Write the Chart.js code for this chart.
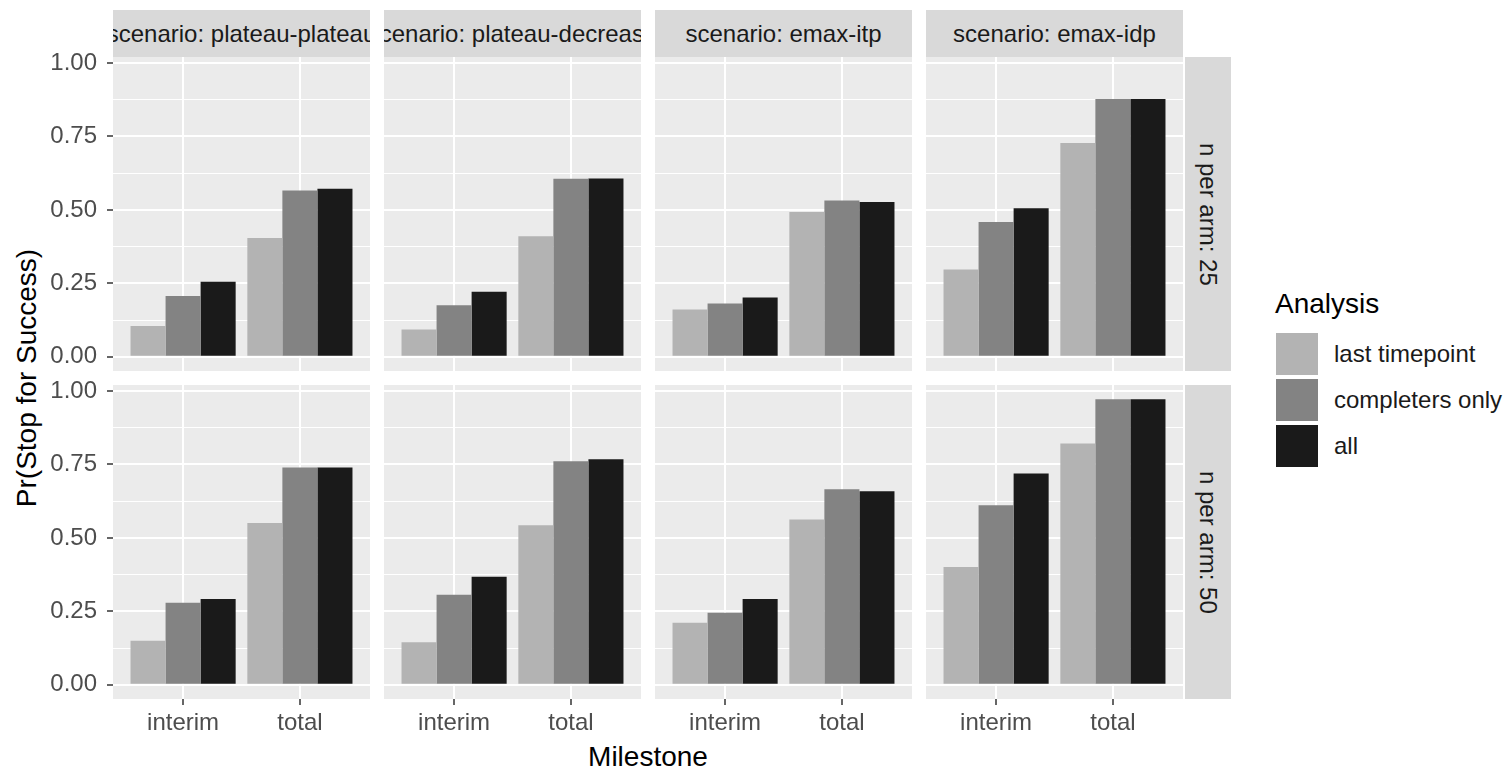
<!DOCTYPE html>
<html>
<head>
<meta charset="utf-8">
<script src="https://cdn.jsdelivr.net/npm/chart.js@4.4.1/dist/chart.umd.min.js"></script>
<style>
  body { margin: 0; background: #fff; width: 1510px; height: 769px; position: relative; overflow: hidden;
         font-family: "Liberation Sans", Arial, sans-serif; }
  canvas { position: absolute; }
  .strip { position: absolute; background: #D9D9D9; color: #1A1A1A; font-size: 24px;
           display: flex; align-items: center; justify-content: center; overflow: hidden; white-space: nowrap; }
  .strip-y { writing-mode: vertical-rl; }
  .title { position: absolute; font-size: 28px; color: #000; white-space: nowrap; }
  .key { position: absolute; width: 42px; height: 42px; }
  .key-label { position: absolute; font-size: 24px; color: #1A1A1A; white-space: nowrap; line-height: 42px; }
</style>
</head>
<body>
<div class="title" id="ytitle">Pr(Stop for Success)</div>
<div class="title" id="xtitle">Milestone</div>
<div class="title" id="legtitle">Analysis</div>

<script>
// ===== Datos =====
const scenarios = ["plateau-plateau", "plateau-decrease", "emax-itp", "emax-idp"];
const nPerArm = [25, 50];
const milestones = ["interim", "total"];
const analyses = ["last timepoint", "completers only", "all"];
const yTicks = [0, 0.25, 0.5, 0.75, 1];
const yMinorTicks = [0.125, 0.375, 0.625, 0.875];

// por escenario: [interim, total]
const lastTimepoint25  = [[0.105, 0.404], [0.093, 0.410], [0.161, 0.493], [0.297, 0.728]];
const completersOnly25 = [[0.207, 0.566], [0.175, 0.606], [0.181, 0.532], [0.459, 0.878]];
const all25            = [[0.255, 0.572], [0.221, 0.607], [0.202, 0.527], [0.506, 0.878]];

const lastTimepoint50  = [[0.150, 0.551], [0.145, 0.543], [0.211, 0.563], [0.401, 0.821]];
const completersOnly50 = [[0.279, 0.740], [0.306, 0.761], [0.245, 0.666], [0.611, 0.972]];
const all50            = [[0.292, 0.740], [0.368, 0.768], [0.292, 0.659], [0.719, 0.972]];

const series = [
  [lastTimepoint25, completersOnly25, all25],
  [lastTimepoint50, completersOnly50, all50]
];

// ===== Estilo / layout =====
const fillColors = ["#B3B3B3", "#838383", "#1A1A1A"];
const panelLeft = [113, 384, 655, 926];
const panelW = 257;
const rowTop = [57, 385];
const panelH = 314;
const yAxisW = 80;
const xAxisH = 44;
const padTop = 16; // espacio para la etiqueta 1.00

const dataMax = Math.max(...series.flat(3));
const yMin = -dataMax * 0.05;
const yMax = dataMax * 1.05;
const tickFont = { family: "'Liberation Sans', Arial, sans-serif", size: 24 };

const panelBg = {
  id: "panelBg",
  beforeDraw(chart) {
    const { ctx, chartArea: a } = chart;
    ctx.save();
    ctx.fillStyle = "#EBEBEB";
    ctx.fillRect(a.left, a.top, a.right - a.left, a.bottom - a.top);
    ctx.restore();
  }
};

const isMajor = v => yTicks.some(t => Math.abs(t - v) < 1e-9);

function crearPanel(row, col) {
  const left = col === 0;
  const bottom = row === 1;
  const top = left ? padTop : 0;
  const canvas = document.createElement("canvas");
  canvas.width = panelW + (left ? yAxisW : 0);
  canvas.height = panelH + top + (bottom ? xAxisH : 0);
  canvas.style.left = (panelLeft[col] - (left ? yAxisW : 0)) + "px";
  canvas.style.top = (rowTop[row] - top) + "px";
  document.body.appendChild(canvas);

  new Chart(canvas, {
    type: "bar",
    data: {
      datasets: analyses.map((a, k) => ({
        label: a,
        data: milestones.map((m, i) => ({ x: i + 1, y: series[row][k][col][i] })),
        backgroundColor: fillColors[k],
        borderWidth: 0,
        categoryPercentage: 0.9,
        barPercentage: 1
      }))
    },
    options: {
      responsive: false,
      animation: false,
      events: [],
      layout: { padding: { top: top, left: 0, right: 0, bottom: 0 } },
      plugins: { legend: { display: false }, tooltip: { enabled: false } },
      scales: {
        x: {
          type: "linear", min: 0.4, max: 2.6, bounds: "data", offset: false,
          afterBuildTicks: s => { s.ticks = milestones.map((m, i) => ({ value: i + 1 })); },
          afterFit: s => { s.height = bottom ? xAxisH : 0; s.paddingLeft = 0; s.paddingRight = 0; },
          border: { display: false },
          grid: { offset: false, color: "#FFFFFF", lineWidth: 2, drawTicks: bottom,
                  tickLength: 6, tickColor: "#333333", tickWidth: 1.5 },
          ticks: { display: bottom, autoSkip: false, maxRotation: 0, padding: 4,
                   color: "#4D4D4D", font: tickFont, callback: v => milestones[v - 1] }
        },
        y: {
          min: yMin, max: yMax, bounds: "data",
          afterBuildTicks: s => {
            s.ticks = yTicks.concat(yMinorTicks).sort((a, b) => a - b).map(v => ({ value: v }));
          },
          afterFit: s => { s.width = left ? yAxisW : 0; s.paddingTop = 0; s.paddingBottom = 0; },
          border: { display: false },
          grid: {
            color: "#FFFFFF",
            lineWidth: c => isMajor(c.tick.value) ? 2 : 1,
            drawTicks: left, tickLength: 6, tickWidth: 1.5,
            tickColor: c => isMajor(c.tick.value) ? "#333333" : "rgba(0,0,0,0)"
          },
          ticks: { display: left, autoSkip: false, padding: 10, color: "#4D4D4D", font: tickFont,
                   callback: v => isMajor(v) ? v.toFixed(2) : "" }
        }
      }
    },
    plugins: [panelBg]
  });
}

function crearStrips() {
  scenarios.forEach((s, c) => {
    const d = document.createElement("div");
    d.className = "strip";
    d.textContent = "scenario: " + s;
    Object.assign(d.style, { left: panelLeft[c] + "px", top: "10px", width: panelW + "px", height: (rowTop[0] - 10) + "px" });
    document.body.appendChild(d);
  });
  nPerArm.forEach((n, r) => {
    const d = document.createElement("div");
    d.className = "strip strip-y";
    d.textContent = "n per arm: " + n;
    Object.assign(d.style, { left: (panelLeft[3] + panelW + 2) + "px", top: rowTop[r] + "px", width: "46px", height: panelH + "px" });
    document.body.appendChild(d);
  });
}

function crearLeyenda() {
  const legLeft = 1276, legTop = 333, step = 46;
  analyses.forEach((a, k) => {
    const key = document.createElement("div");
    key.className = "key";
    Object.assign(key.style, { left: legLeft + "px", top: (legTop + k * step) + "px", background: fillColors[k] });
    document.body.appendChild(key);
    const lab = document.createElement("div");
    lab.className = "key-label";
    lab.textContent = a;
    Object.assign(lab.style, { left: (legLeft + 58) + "px", top: (legTop + k * step) + "px" });
    document.body.appendChild(lab);
  });
}

function ubicarTitulos() {
  const yt = document.getElementById("ytitle");
  const panelsMidY = (rowTop[0] + rowTop[1] + panelH) / 2;
  Object.assign(yt.style, { left: "27px", top: panelsMidY + "px", transform: "translate(-50%, -50%) rotate(-90deg)" });
  const xt = document.getElementById("xtitle");
  const panelsMidX = (panelLeft[0] + panelLeft[3] + panelW) / 2;
  Object.assign(xt.style, { left: panelsMidX + "px", top: "757px", transform: "translate(-50%, -50%)" });
  const lt = document.getElementById("legtitle");
  Object.assign(lt.style, { left: "1275px", top: "304px", transform: "translateY(-50%)" });
}

crearStrips();
for (let r = 0; r < nPerArm.length; r++) {
  for (let c = 0; c < scenarios.length; c++) crearPanel(r, c);
}
crearLeyenda();
ubicarTitulos();
</script>
</body>
</html>
